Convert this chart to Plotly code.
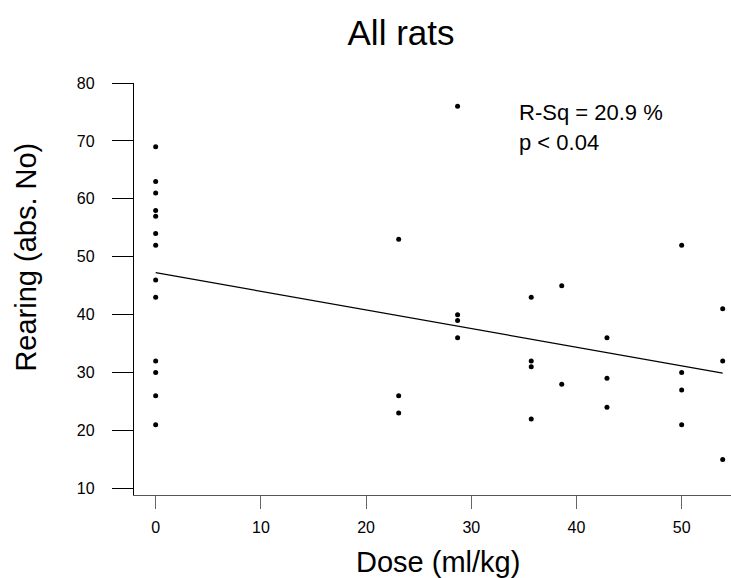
import numpy as np
import plotly.graph_objects as go

# Data
dose = [0]*13 + [23.1]*3 + [28.7]*4 + [35.7]*4 + [38.6]*2 + [42.9]*3 + [50.0]*4 + [53.9]*3
rearing = [69, 63, 61, 58, 57, 54, 52, 46, 43, 32, 30, 26, 21,
           53, 26, 23,
           76, 40, 39, 36,
           43, 32, 31, 22,
           45, 28,
           36, 29, 24,
           52, 30, 27, 21,
           41, 32, 15]
y_ticks = [10, 20, 30, 40, 50, 60, 70, 80]
x_ticks = [0, 10, 20, 30, 40, 50]
stats_lines = ["R-Sq = 20.9 %", "p &lt; 0.04"]

slope, intercept = np.polyfit(dose, rearing, 1)
fit_x = [min(dose), max(dose)]
fit_y = [intercept + slope * v for v in fit_x]

FONT = "Arial, Liberation Sans, sans-serif"

fig = go.Figure()
fig.add_trace(go.Scatter(x=fit_x, y=fit_y, mode="lines",
                         line=dict(color="black", width=1.2), showlegend=False))
fig.add_trace(go.Scatter(x=dose, y=rearing, mode="markers",
                         marker=dict(color="black", size=5), showlegend=False,
                         cliponaxis=False))

fig.update_layout(
    width=731, height=578,
    margin=dict(l=134, r=0, t=83, b=83),
    paper_bgcolor="white", plot_bgcolor="white",
    font=dict(family=FONT, color="black"),
    title=dict(text="All rats", x=401/731, xanchor="center",
               y=1 - 33/578, yanchor="middle",
               font=dict(size=35, family=FONT, color="black")),
    xaxis=dict(range=[-2.06, 54.69], tickvals=x_ticks, showgrid=False, zeroline=False,
               showline=True, linecolor="#555", linewidth=1,
               ticks="outside", ticklen=13, tickcolor="#666", tickwidth=1,
               tickfont=dict(size=16, family=FONT, color="black"),
               ticklabelstandoff=5),
    yaxis=dict(range=[8.86, 80], tickvals=y_ticks, showgrid=False, zeroline=False,
               showline=True, linecolor="black", linewidth=1.3,
               ticks="outside", ticklen=21, tickcolor="black", tickwidth=1,
               tickfont=dict(size=16, family=FONT, color="black"),
               ticklabelstandoff=14),
)

fig.add_annotation(text="Rearing (abs. No)", xref="paper", yref="paper",
                   x=(25.6-134)/597, y=(495-257)/412, textangle=-90,
                   xanchor="center", yanchor="middle", showarrow=False,
                   font=dict(size=29, family=FONT, color="black"))
fig.add_annotation(text="Dose (ml/kg)", xref="paper", yref="paper",
                   x=(438-134)/597, y=(495-562)/412,
                   xanchor="center", yanchor="middle", showarrow=False,
                   font=dict(size=29, family=FONT, color="black"))
for line, py in zip(stats_lines, [113, 142]):
    fig.add_annotation(text=line, xref="paper", yref="paper",
                       x=(517-134)/597, y=(495-py)/412,
                       xanchor="left", yanchor="middle", showarrow=False,
                       font=dict(size=22, family=FONT, color="black"))

fig.write_html("out.html", config={"displayModeBar": False},
               post_script="document.body.style.margin='0';document.body.style.overflow='hidden';")
